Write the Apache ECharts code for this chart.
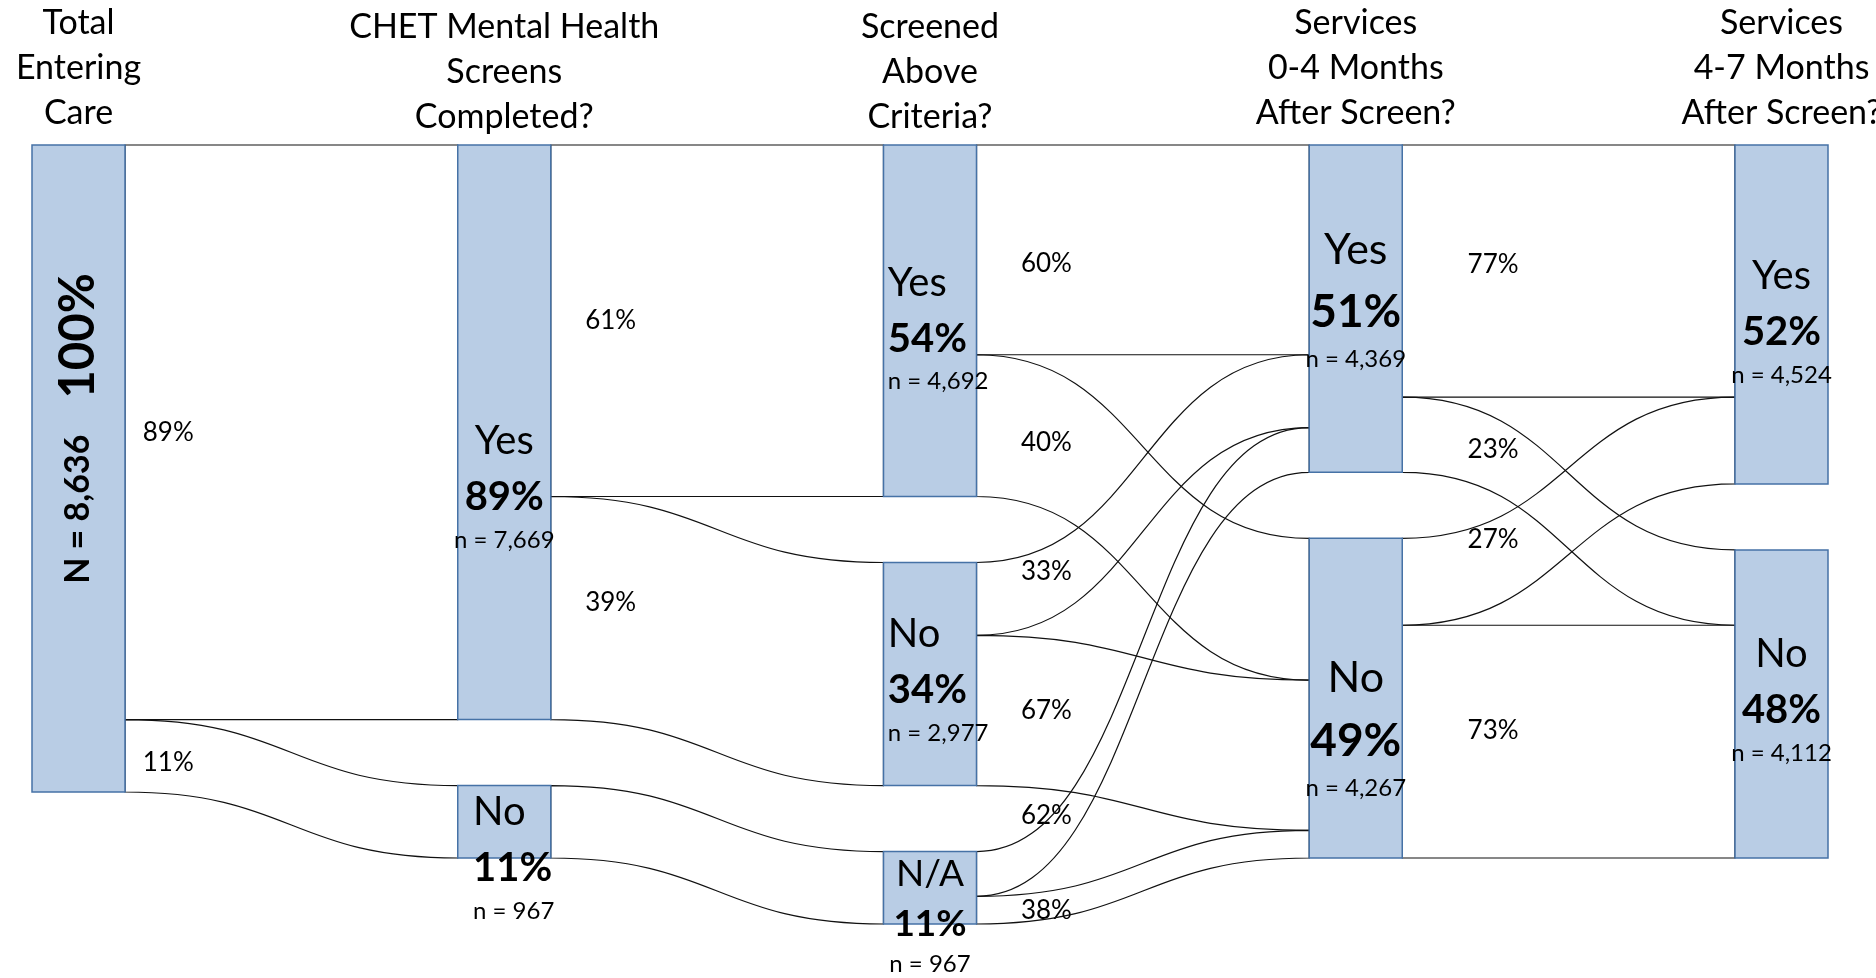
<!DOCTYPE html>
<html>
<head>
<meta charset="utf-8">
<script src="https://cdn.jsdelivr.net/npm/echarts@6/dist/echarts.min.js"></script>
<style>
  html, body { margin: 0; padding: 0; background: #ffffff; }
  #chart { width: 1876px; height: 978px; }
</style>
</head>
<body>
<div id="chart"></div>
<script>
// Column headers, one per stage of the care pathway
const stageTitles = [
  'Total\nEntering\nCare',
  'CHET Mental Health\nScreens\nCompleted?',
  'Screened\nAbove\nCriteria?',
  'Services\n0-4 Months\nAfter Screen?',
  'Services\n4-7 Months\nAfter Screen?'
];

// Nodes: id, answer shown on the node, children counted, stage (column)
const nodeIds     = ['total', 'scrYes', 'scrNo', 'abvYes', 'abvNo', 'abvNA', 's04Yes', 's04No', 's47Yes', 's47No'];
const nodeAnswers = ['',      'Yes',    'No',    'Yes',    'No',    'N/A',   'Yes',    'No',    'Yes',    'No'];
const nodeCounts  = [8636,    7669,     967,     4692,     2977,    967,     4369,     4267,     4524,     4112];
const nodeStages  = [0,       1,        1,       2,        2,       2,       3,        3,        4,        4];

// Flows between consecutive stages (children counted)
const flowSources = ['total', 'total', 'scrYes', 'scrYes', 'scrNo', 'abvYes', 'abvYes', 'abvNo', 'abvNo', 'abvNA', 'abvNA', 's04Yes', 's04Yes', 's04No', 's04No'];
const flowTargets = ['scrYes', 'scrNo', 'abvYes', 'abvNo', 'abvNA', 's04Yes', 's04No', 's04Yes', 's04No', 's04Yes', 's04No', 's47Yes', 's47No', 's47Yes', 's47No'];
const flowCounts  = [7669, 967, 4692, 2977, 967, 2800, 1892, 972, 2005, 597, 370, 3364, 1005, 1160, 3107];

const FONT = 'Lato';
const totalCount = nodeCounts[0];
const fmt = v => v.toLocaleString('en-US');
const pct = (part, whole) => Math.round(part / whole * 100) + '%';

// Where each node's text block sits on its bar, and which text size set it uses
const nodeLabelLayout = {
  scrYes: { position: 'inside', offset: [0, 52], size: 'm' },
  scrNo:  { position: 'insideLeft', distance: 16, offset: [0, 33], size: 'm' },
  abvYes: { position: 'insideLeft', distance: 5, offset: [0, 5], size: 'm' },
  abvNo:  { position: 'insideLeft', distance: 5, offset: [0, 3], size: 'm' },
  abvNA:  { position: 'inside', offset: [0, 26], size: 's' },
  s04Yes: { position: 'inside', offset: [0, -12], size: 'l' },
  s04No:  { position: 'inside', offset: [0, 27], size: 'l' },
  s47Yes: { position: 'inside', offset: [0, 5], size: 'm' },
  s47No:  { position: 'inside', offset: [0, -7], size: 'm' }
};

const richStyles = {
  // regular size
  mt: { fontFamily: FONT, fontSize: 40, lineHeight: 56, color: '#000' },
  mp: { fontFamily: FONT, fontSize: 40, fontWeight: 'bold', lineHeight: 56, color: '#000' },
  mn: { fontFamily: FONT, fontSize: 24, lineHeight: 30, color: '#000' },
  // larger, for the 0-4 month services column
  lt: { fontFamily: FONT, fontSize: 43, lineHeight: 62, color: '#000' },
  lp: { fontFamily: FONT, fontSize: 46, fontWeight: 'bold', lineHeight: 64, color: '#000' },
  ln: { fontFamily: FONT, fontSize: 24, lineHeight: 30, color: '#000' },
  // smaller, for the short N/A bar
  st: { fontFamily: FONT, fontSize: 37, lineHeight: 50, color: '#000' },
  sp_: { fontFamily: FONT, fontSize: 37, fontWeight: 'bold', lineHeight: 50, color: '#000' },
  sn: { fontFamily: FONT, fontSize: 24, lineHeight: 30, color: '#000' },
  // rotated total label
  pad: { width: 80 },
  gap: { width: 36 },
  tn:  { fontFamily: FONT, fontSize: 34, fontWeight: 'bold', color: '#000' },
  tp:  { fontFamily: FONT, fontSize: 49, fontWeight: 'bold', color: '#000' }
};

const nodes = nodeIds.map((id, i) => {
  if (i === 0) {
    return {
      name: id,
      value: nodeCounts[i],
      label: {
        position: 'inside',
        rotate: 90,
        formatter: '{pad| }{tn|N = ' + fmt(nodeCounts[i]) + '}{gap| }{tp|' + pct(nodeCounts[i], totalCount) + '}'
      }
    };
  }
  const lay = nodeLabelLayout[id];
  const s = lay.size;
  const k = [s + 't', s === 's' ? 'sp_' : s + 'p', s + 'n'];
  const label = {
    position: lay.position,
    offset: lay.offset,
    formatter: '{' + k[0] + '|' + nodeAnswers[i] + '}\n{' + k[1] + '|' + pct(nodeCounts[i], totalCount) +
               '}\n{' + k[2] + '|n = ' + fmt(nodeCounts[i]) + '}'
  };
  if (lay.distance != null) label.distance = lay.distance;
  return { name: id, value: nodeCounts[i], label: label };
});

const links = flowSources.map((s, i) => ({ source: s, target: flowTargets[i], value: flowCounts[i] }));

const chart = echarts.init(document.getElementById('chart'), null, { renderer: 'canvas' });

chart.setOption({
  backgroundColor: '#ffffff',
  animation: false,
  series: [{
    type: 'sankey',
    left: 32, top: 145, right: 48, bottom: 54,
    nodeWidth: 93,
    nodeGap: 66,
    layoutIterations: 0,
    draggable: false,
    emphasis: { disabled: true },
    data: nodes,
    links: links,
    itemStyle: { color: '#b9cde5', borderColor: '#4672a6', borderWidth: 1.5, opacity: 1 },
    lineStyle: { color: 'rgba(255,255,255,0)', opacity: 1, borderColor: '#111111', borderWidth: 1.2, curveness: 0.5 },
    label: { show: true, color: '#000', textBorderWidth: 0, rich: richStyles }
  }]
});

// Headers and flow percentages, placed from the sankey's own layout
const gapShare = [0.13, 0.18, 0.21, 0.273];
const headerNudge = [1, 5, 5, 1, 1];
const flowLabelNudge = { 1: 7, 3: -5, 5: 14, 6: 17, 7: -27, 9: -58, 11: -6, 12: 15, 13: -42, 14: -11 };

const seriesModel = chart.getModel().getSeriesByIndex(0);
const graph = seriesModel.getGraph();
const box = seriesModel.layoutInfo || { x: 32, y: 145 };
const graphics = [];

const firstOfStage = [0, 1, 3, 6, 8];
firstOfStage.forEach((ni, s) => {
  const lay = graph.getNodeByIndex(ni).getLayout();
  graphics.push({
    type: 'text',
    x: box.x + lay.x + lay.dx / 2,
    y: headerNudge[s],
    style: {
      text: stageTitles[s], fontFamily: FONT, fontSize: 34, lineHeight: 45,
      fill: '#000', align: 'center', verticalAlign: 'top'
    }
  });
});

graph.edges.forEach(edge => {
  const i = edge.dataIndex;
  const srcIdx = nodeIds.indexOf(flowSources[i]);
  const share = flowCounts[i] / nodeCounts[srcIdx];
  if (share >= 1) return;
  const src = edge.node1.getLayout();
  const tgt = edge.node2.getLayout();
  const el = edge.getLayout();
  const right = src.x + src.dx;
  const gap = tgt.x - right;
  graphics.push({
    type: 'text',
    x: box.x + right + gap * gapShare[nodeStages[srcIdx]],
    y: box.y + src.y + el.sy + el.dy / 2 + (flowLabelNudge[i] || 0),
    style: {
      text: pct(flowCounts[i], nodeCounts[srcIdx]), fontFamily: FONT, fontSize: 26,
      fill: '#000', align: 'center', verticalAlign: 'middle'
    }
  });
});

chart.setOption({ graphic: graphics });
</script>
</body>
</html>
